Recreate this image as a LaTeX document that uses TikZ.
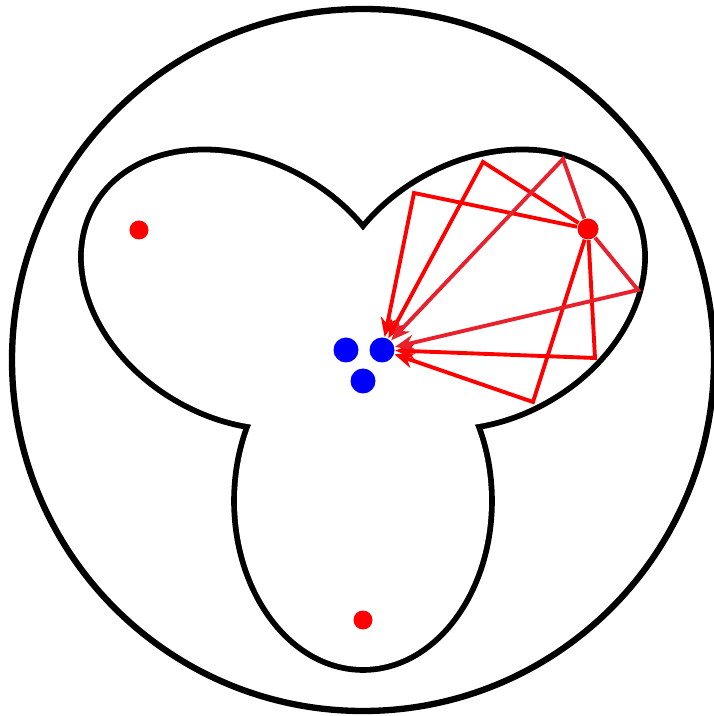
\documentclass[tikz,border=0pt]{standalone}
\usepackage{xcolor}
\usepackage{tikz}
\usetikzlibrary{arrows.meta, positioning, calc}
\definecolor{rayalt}{RGB}{232,34,44}

\begin{document}
\begin{tikzpicture}[
    wall/.style={draw=black, line width=3.3pt},
    lobe/.style={fill=white},
    source/.style={circle, fill=red, inner sep=0pt, minimum size=0.19cm},
    target/.style={circle, fill=blue, inner sep=0pt, minimum size=0.25cm},
    ray/.style={-{Stealth[length=5.5pt, width=4.4pt]}, red, line width=1.1pt}
  ]
    \useasboundingbox (-3.63,-3.56) rectangle (3.50,3.60);

    % Outer disc
    \draw[line width=1.8pt] (0,0) circle[radius=3.51];

    % Three-lobed region (union of three ellipses)
    \foreach \a in {0,120,240}
      \draw[wall, rotate=\a] (0,-1.41) ellipse[x radius=1.26, y radius=1.66];
    \foreach \a in {0,120,240}
      \fill[lobe, rotate=\a] (0,-1.41) ellipse[x radius=1.26, y radius=1.66];

    % Sources
    \node[source] (sl) at (-2.24,1.30) {};
    \node[source] (sb) at (0,-2.60) {};
    \node[source, minimum size=0.21cm] (sr) at (2.25,1.31) {};

    % Targets
    \node[target] (t1) at (-0.17,0.10) {};
    \node[target] (t2) at (0.19,0.10) {};
    \node[target] (t3) at (0,-0.21) {};

    % Reflection points on the wall
    \coordinate (p1) at (0.51,1.67);
    \coordinate (p2) at (1.20,1.98);
    \coordinate (p3) at (2.00,2.01);
    \coordinate (p4) at (2.75,0.70);
    \coordinate (p5) at (2.32,0.02);
    \coordinate (p6) at (1.70,-0.42);

    % Reflected rays
    \foreach \p in {p1,p2,p5,p6}
      \draw[ray] (sr) -- (\p) -- (t2);
    \foreach \p in {p3,p4}
      \draw[ray, rayalt] (sr) -- (\p) -- (t2);
\end{tikzpicture}
\end{document}
